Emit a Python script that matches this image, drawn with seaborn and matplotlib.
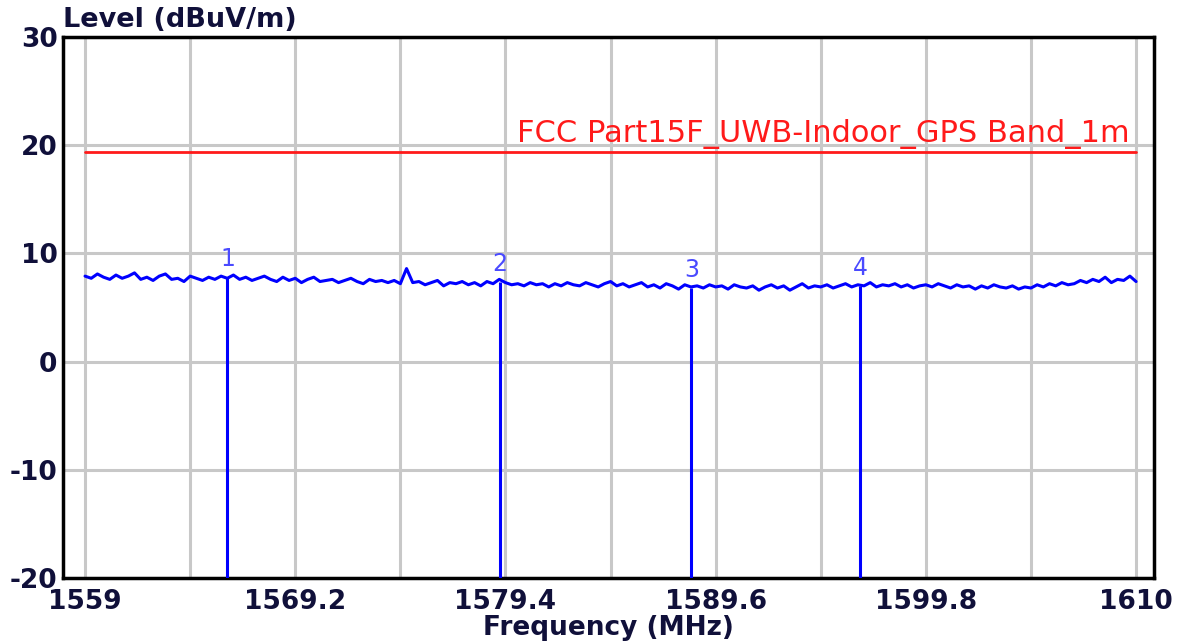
import numpy as np
import pandas as pd
import matplotlib
matplotlib.use("Agg")
import matplotlib.pyplot as plt
import seaborn as sns

# ---------------- data ----------------
freq_start = 1559.0
freq_step = 0.3
level = [
    7.9, 7.7, 8.1, 7.8, 7.6, 8.0, 7.7, 7.9, 8.2, 7.6,
    7.8, 7.5, 7.9, 8.1, 7.6, 7.7, 7.4, 7.9, 7.7, 7.5,
    7.8, 7.6, 7.9, 7.7, 8.0, 7.6, 7.8, 7.5, 7.7, 7.9,
    7.6, 7.4, 7.8, 7.5, 7.7, 7.3, 7.6, 7.8, 7.4, 7.5,
    7.6, 7.3, 7.5, 7.7, 7.4, 7.2, 7.6, 7.4, 7.5, 7.3,
    7.5, 7.2, 8.6, 7.3, 7.4, 7.1, 7.3, 7.5, 7.0, 7.3,
    7.2, 7.4, 7.1, 7.3, 7.0, 7.4, 7.2, 7.6, 7.3, 7.1,
    7.2, 7.0, 7.3, 7.1, 7.2, 6.9, 7.2, 7.0, 7.3, 7.1,
    7.0, 7.3, 7.1, 6.9, 7.2, 7.4, 7.0, 7.2, 6.9, 7.1,
    7.3, 6.9, 7.1, 6.8, 7.2, 7.0, 6.7, 7.1, 6.9, 7.0,
    6.8, 7.1, 6.9, 7.0, 6.7, 7.1, 6.9, 6.8, 7.0, 6.6,
    6.9, 7.1, 6.8, 7.0, 6.6, 6.9, 7.2, 6.8, 7.0, 6.9,
    7.1, 6.8, 7.0, 7.2, 6.9, 7.1, 7.0, 7.3, 6.9, 7.1,
    7.0, 7.2, 6.9, 7.1, 6.8, 7.0, 7.1, 6.9, 7.2, 7.0,
    6.8, 7.1, 6.9, 7.0, 6.7, 7.0, 6.8, 7.1, 6.9, 6.8,
    7.0, 6.7, 6.9, 6.8, 7.1, 6.9, 7.2, 7.0, 7.3, 7.1,
    7.2, 7.5, 7.3, 7.6, 7.4, 7.8, 7.3, 7.6, 7.5, 7.9,
    7.4,
]
freq = [round(freq_start + freq_step * i, 2) for i in range(len(level))]

limit_freq = [1559.0, 1610.0]
limit_level = [19.4, 19.4]
limit_name = "FCC Part15F_UWB-Indoor_GPS Band_1m"

marker_ids = ["1", "2", "3", "4"]
marker_freq = [1565.91, 1579.12, 1588.42, 1596.61]
marker_level = [7.8, 7.4, 6.8, 7.0]

x_ticks = [1559, 1564.1, 1569.2, 1574.3, 1579.4, 1584.5, 1589.6, 1594.7, 1599.8, 1604.9, 1610]
x_ticklabels = ["1559", "", "1569.2", "", "1579.4", "", "1589.6", "", "1599.8", "", "1610"]
y_ticks = [-20, -10, 0, 10, 20, 30]

# ---------------- style ----------------
sns.set_theme(style="whitegrid")
plt.rcParams["font.family"] = ["DejaVu Sans"]
plt.rcParams["axes.unicode_minus"] = False
text_col = "#10103a"
trace_col = "#0000ff"
limit_col = "#ff1a1a"
grid_col = "#c8c8c8"

fig = plt.figure(figsize=(11.84, 6.41), dpi=100)
ax = fig.add_axes([63 / 1184, 1 - 578 / 641, (1154 - 63) / 1184, (578 - 37) / 641])
ax.set_facecolor("white")

df = pd.DataFrame({"freq": freq, "level": level})
sns.lineplot(data=df, x="freq", y="level", ax=ax, color=trace_col,
             linewidth=2.2, estimator=None, sort=False, zorder=4)

lim = pd.DataFrame({"freq": limit_freq, "level": limit_level})
sns.lineplot(data=lim, x="freq", y="level", ax=ax, color=limit_col,
             linewidth=2.0, estimator=None, zorder=3)
ax.text(1609.7, limit_level[0] + 0.25, limit_name, color=limit_col,
        fontsize=22, ha="right", va="bottom", zorder=5)

ax.vlines(marker_freq, -20, marker_level, color=trace_col, linewidth=2.2, zorder=4)
for mid, mf, ml in zip(marker_ids, marker_freq, marker_level):
    ax.text(mf, ml + 1.65, mid, color="#4a4aff", fontsize=17,
            ha="center", va="center", zorder=5)

ax.set_xlim(1557.93, 1610.87)
ax.set_ylim(-20, 30)
ax.set_xticks(x_ticks)
ax.set_xticklabels(x_ticklabels)
ax.set_yticks(y_ticks)
ax.set_xlabel("")
ax.set_ylabel("")
ax.grid(True, color=grid_col, linewidth=2.2)
ax.tick_params(axis="both", length=0, labelsize=19, labelcolor=text_col)
ax.tick_params(axis="x", pad=8)
ax.tick_params(axis="y", pad=4)
for lab in ax.get_xticklabels() + ax.get_yticklabels():
    lab.set_fontweight("bold")
for s in ax.spines.values():
    s.set_visible(True)
    s.set_color("black")
    s.set_linewidth(2.5)

fig.text(63 / 1184, 1 - 20 / 641, "Level (dBuV/m)", fontsize=19.5, fontweight="bold",
         color=text_col, ha="left", va="center")
fig.text(608 / 1184, 1 - 628 / 641, "Frequency (MHz)", fontsize=19, fontweight="bold",
         color=text_col, ha="center", va="center")

fig.savefig("out.png", dpi=100)
